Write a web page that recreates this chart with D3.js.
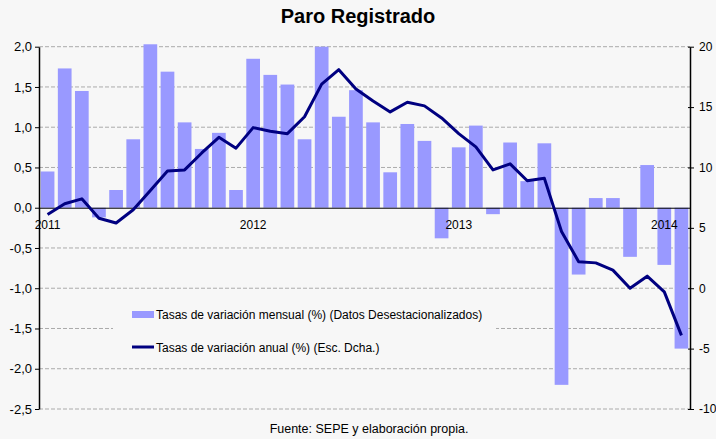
<!DOCTYPE html>
<html>
<head>
<meta charset="utf-8">
<script src="https://cdn.jsdelivr.net/npm/d3@7"></script>
<style>
  html, body { margin: 0; padding: 0; background: #f7f7f7; }
  svg { display: block; font-family: "Liberation Sans", Arial, sans-serif; }
</style>
</head>
<body>
<script>
// months Jan 2011 .. Feb 2014
const months = d3.range(38).map(i => `${2011 + Math.floor(i / 12)}-${String(i % 12 + 1).padStart(2, "0")}`);
const yearLabels = ["2011", "2012", "2013", "2014"];

// monthly rate, seasonally adjusted (left axis)
const monthly = [
  0.45, 1.73, 1.45, -0.12, 0.22, 0.85, 2.03, 1.69, 1.06, 0.73, 0.93, 0.22,
  1.85, 1.65, 1.53, 0.85, 2.00, 1.13, 1.46, 1.06, 0.44, 1.04, 0.83, -0.38,
  0.75, 1.02, -0.08, 0.81, 0.33, 0.80, -2.20, -0.83, 0.12, 0.12, -0.61, 0.53,
  -0.71, -1.75
];

// annual rate (right axis)
const annual = [
  6.1, 7.0, 7.4, 5.8, 5.4, 6.5, 8.1, 9.7, 9.8, 11.2, 12.5, 11.6,
  13.3, 13.0, 12.8, 14.2, 16.9, 18.1, 16.5, 15.5, 14.6, 15.4, 15.1, 14.1,
  12.8, 11.7, 9.8, 10.3, 8.9, 9.1, 4.7, 2.2, 2.1, 1.5, 0.0, 1.0,
  -0.3, -3.9
];

const leftTicks = [-2.5, -2.0, -1.5, -1.0, -0.5, 0.0, 0.5, 1.0, 1.5, 2.0];
const rightTicks = [-10, -5, 0, 5, 10, 15, 20];

const legendLabels = [
  "Tasas de variación mensual (%) (Datos Desestacionalizados)",
  "Tasas de variación anual (%) (Esc. Dcha.)"
];
const title = "Paro Registrado";
const source = "Fuente: SEPE y elaboración propia.";

const width = 716, height = 439;
const margin = {left: 39, right: 690, top: 46.7, bottom: 409};
const barColor = "#9999ff", lineColor = "#000080", bg = "#f7f7f7";

const locale = d3.formatLocale({decimal: ",", thousands: ".", grouping: [3], currency: ["", "€"], minus: "-"});
const fmtLeft = locale.format(".1f");
const fmtRight = locale.format("d");

const x = d3.scaleBand()
  .domain(months)
  .range([margin.left, margin.right])
  .paddingInner(0.2)
  .paddingOuter(0.1);

const yL = d3.scaleLinear().domain([-2.5, 2]).range([margin.bottom, margin.top]);
const yR = d3.scaleLinear().domain([-10, 20]).range([margin.bottom, margin.top]);

const svg = d3.select("body").append("svg")
  .attr("width", width)
  .attr("height", height);

svg.append("rect").attr("width", width).attr("height", height).attr("fill", bg);

// gridlines
svg.append("g")
  .selectAll("line")
  .data(leftTicks.filter(d => d !== 0))
  .join("line")
    .attr("x1", margin.left)
    .attr("x2", margin.right)
    .attr("y1", d => yL(d))
    .attr("y2", d => yL(d))
    .attr("stroke", "#ababab")
    .attr("stroke-dasharray", "4,2");

// bars
svg.append("g")
  .selectAll("rect")
  .data(monthly)
  .join("rect")
    .attr("x", (d, i) => x(months[i]))
    .attr("width", x.bandwidth())
    .attr("y", d => yL(Math.max(0, d)))
    .attr("height", d => Math.abs(yL(d) - yL(0)))
    .attr("fill", barColor);

// zero line with year labels
const janMonths = months.filter(m => m.endsWith("-01"));
svg.append("g")
  .attr("transform", `translate(0,${yL(0)})`)
  .call(d3.axisBottom(x)
    .tickValues(janMonths)
    .tickFormat((m, i) => yearLabels[i])
    .tickSize(0)
    .tickSizeOuter(0)
    .tickPadding(13))
  .call(g => g.select(".domain").attr("stroke", "#000"))
  .call(g => g.selectAll("text")
    .attr("font-size", 12)
    .attr("font-family", "Liberation Sans, Arial, sans-serif")
    .attr("fill", "#000"));

// left axis
svg.append("g")
  .attr("transform", `translate(${margin.left},0)`)
  .call(d3.axisLeft(yL)
    .tickValues(leftTicks)
    .tickFormat(fmtLeft)
    .tickSize(4)
    .tickSizeOuter(0)
    .tickPadding(3))
  .call(g => g.select(".domain").attr("stroke", "#000").attr("stroke-width", 1.5))
  .call(g => g.selectAll(".tick line").attr("stroke", "#000"))
  .call(g => g.selectAll("text")
    .attr("font-size", 13)
    .attr("font-family", "Liberation Sans, Arial, sans-serif")
    .attr("fill", "#000"));

// legend box (covers gridline)
const legend = svg.append("g");
legend.append("rect")
  .attr("x", 113).attr("y", 293)
  .attr("width", 383).attr("height", 73)
  .attr("fill", bg);

legend.append("rect")
  .attr("x", 132).attr("y", 311)
  .attr("width", 22).attr("height", 7)
  .attr("fill", barColor);
legend.append("line")
  .attr("x1", 132).attr("x2", 154)
  .attr("y1", 347).attr("y2", 347)
  .attr("stroke", lineColor)
  .attr("stroke-width", 3);
legend.selectAll("text")
  .data(legendLabels)
  .join("text")
    .attr("x", 156)
    .attr("y", (d, i) => 315 + i * 33)
    .attr("dy", "0.35em")
    .attr("font-size", 12)
    .attr("fill", "#000")
    .text(d => d);

// annual line
svg.append("path")
  .datum(annual)
  .attr("fill", "none")
  .attr("stroke", lineColor)
  .attr("stroke-width", 3)
  .attr("stroke-linejoin", "round")
  .attr("d", d3.line()
    .x((d, i) => x(months[i]) + x.bandwidth() / 2)
    .y(d => yR(d)));

// right axis
svg.append("g")
  .attr("transform", `translate(${margin.right},0)`)
  .call(d3.axisRight(yR)
    .tickValues(rightTicks)
    .tickFormat(fmtRight)
    .tickSize(4)
    .tickSizeOuter(0)
    .tickPadding(5))
  .call(g => g.select(".domain").attr("stroke", "#000").attr("stroke-width", 1.5))
  .call(g => g.selectAll(".tick line").attr("x1", -2).attr("stroke", "#000"))
  .call(g => g.selectAll("text")
    .attr("font-size", 12)
    .attr("font-family", "Liberation Sans, Arial, sans-serif")
    .attr("fill", "#000"));

// title and source
svg.append("text")
  .attr("x", 358)
  .attr("y", 23)
  .attr("text-anchor", "middle")
  .attr("font-size", 20)
  .attr("font-weight", "bold")
  .text(title);

svg.append("text")
  .attr("x", 369)
  .attr("y", 433)
  .attr("text-anchor", "middle")
  .attr("font-size", 12.5)
  .text(source);
</script>
</body>
</html>
